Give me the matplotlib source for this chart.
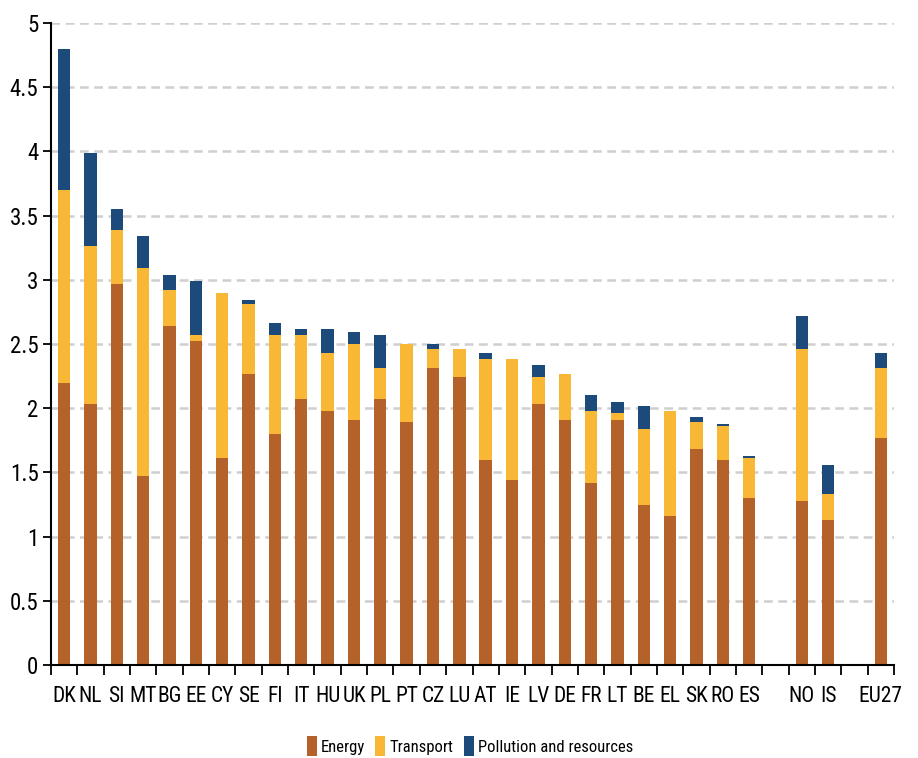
import matplotlib
matplotlib.use("Agg")
import matplotlib.pyplot as plt
import numpy as np
from matplotlib import font_manager as fm
from matplotlib.ticker import FixedLocator, FuncFormatter

# ---- data ----
countries = ["DK", "NL", "SI", "MT", "BG", "EE", "CY", "SE", "FI", "IT", "HU", "UK", "PL",
             "PT", "CZ", "LU", "AT", "IE", "LV", "DE", "FR", "LT", "BE", "EL", "SK", "RO", "ES",
             "", "NO", "IS", "", "EU27"]
energy = [2.20, 2.03, 2.97, 1.47, 2.64, 2.52, 1.61, 2.27, 1.80, 2.07, 1.98, 1.91, 2.07,
          1.89, 2.31, 2.24, 1.60, 1.44, 2.03, 1.91, 1.42, 1.91, 1.25, 1.16, 1.68, 1.60, 1.30,
          0, 1.28, 1.13, 0, 1.77]
transport = [1.50, 1.23, 0.42, 1.62, 0.28, 0.05, 1.29, 0.54, 0.77, 0.50, 0.45, 0.59, 0.24,
             0.61, 0.15, 0.22, 0.78, 0.94, 0.21, 0.36, 0.56, 0.05, 0.59, 0.82, 0.21, 0.26, 0.31,
             0, 1.18, 0.20, 0, 0.54]
pollution = [1.10, 0.73, 0.16, 0.25, 0.12, 0.42, 0.00, 0.03, 0.09, 0.05, 0.19, 0.09, 0.26,
             0.00, 0.04, 0.00, 0.05, 0.00, 0.10, 0.00, 0.12, 0.09, 0.18, 0.00, 0.04, 0.02, 0.02,
             0, 0.26, 0.23, 0, 0.12]
series_names = ["Energy", "Transport", "Pollution and resources"]
colors = ["#B5622A", "#F8B835", "#1B4A7B"]
yticks = [0, 0.5, 1, 1.5, 2, 2.5, 3, 3.5, 4, 4.5, 5]

# ---- font: look for a narrow / condensed sans face ----
def pick_font():
    narrow_stretch = ("condensed", "semi-condensed", "extra-condensed", "ultra-condensed")
    cands = []
    for f in fm.fontManager.ttflist:
        nm = f.name
        path = f.fname.lower()
        is_narrow = ("narrow" in nm.lower() or "condensed" in nm.lower()
                     or f.stretch in narrow_stretch
                     or "narrow" in path or "condensed" in path)
        if not is_narrow or f.style != "normal":
            continue
        if "mono" in nm.lower() or "serif" in nm.lower() and "sans" not in nm.lower():
            continue
        w = f.weight if isinstance(f.weight, int) else 400
        if w not in (400, "normal", "regular"):
            continue
        pref = 9
        for i, key in enumerate(["liberation sans narrow", "arial narrow", "roboto condensed",
                                 "notosans-condensed", "noto sans", "dejavu", "open sans"]):
            if key in nm.lower() or key in path:
                pref = i
                break
        if "semicondensed" in path or "extracondensed" in path:
            pref += 0.5
        cands.append((pref, f.fname))
    if cands:
        cands.sort()
        return fm.FontProperties(fname=cands[0][1]), True
    return fm.FontProperties(family="Liberation Sans"), False

fp, narrow = pick_font()
plt.rcParams["font.family"] = ["Liberation Sans", "DejaVu Sans"]

fig = plt.figure(figsize=(9.18, 7.58), dpi=100)
ax = fig.add_axes([51 / 918, 1 - 665 / 758, 843 / 918, (665 - 23) / 758])

x = np.arange(len(countries))
w = 0.47
e = np.array(energy); t = np.array(transport); p = np.array(pollution)
ax.bar(x, e, w, color=colors[0], label=series_names[0], zorder=3)
ax.bar(x, t, w, bottom=e, color=colors[1], label=series_names[1], zorder=3)
ax.bar(x, p, w, bottom=e + t, color=colors[2], label=series_names[2], zorder=3)

ax.set_xlim(-0.5, len(countries) - 0.5)
ax.set_ylim(0, 5)
ax.set_yticks(yticks)
ax.yaxis.set_major_formatter(FuncFormatter(lambda v, _: f"{v:g}"))
for yv in yticks[1:]:
    ax.axhline(yv, color="#cfcfcf", lw=1.8, linestyle=(0, (3.5, 2.2)), zorder=1)

xs = 15.5 if narrow else 12
ys = 16.5 if narrow else 14
ls = 12 if narrow else 11

ax.set_xticks(x)
ax.set_xticklabels(countries)
ax.xaxis.set_minor_locator(FixedLocator(np.arange(-0.5, len(countries), 1.0)))
ax.tick_params(axis="x", which="major", length=0, pad=15)
ax.tick_params(axis="x", which="minor", length=7, width=1.3, color="black")
ax.tick_params(axis="y", length=6, width=1.3, pad=3)
for lab in ax.get_xticklabels():
    lab.set_fontproperties(fp); lab.set_fontsize(xs)
for lab in ax.get_yticklabels():
    lab.set_fontproperties(fp); lab.set_fontsize(ys)

for s in ["top", "right"]:
    ax.spines[s].set_visible(False)
for s in ["left", "bottom"]:
    ax.spines[s].set_linewidth(1.5)
    ax.spines[s].set_zorder(4)

lp = fp.copy(); lp.set_size(ls)
leg = fig.legend(loc="center", bbox_to_anchor=(470 / 918, 1 - 746 / 758), ncol=3,
                 frameon=False, prop=lp, handlelength=0.6, handleheight=1.4,
                 handletextpad=0.25, columnspacing=0.6, borderaxespad=0)

fig.savefig("out.png", dpi=100)
